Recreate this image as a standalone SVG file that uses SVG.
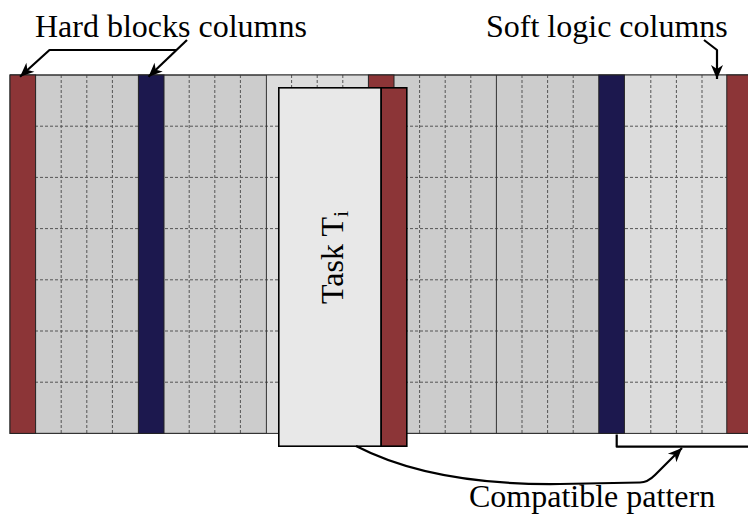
<svg xmlns="http://www.w3.org/2000/svg" width="748" height="514" viewBox="0 0 748 514">
<defs>
<style>
.lbl{font-family:"Liberation Serif","DejaVu Serif",serif;font-size:32px;fill:#000}
.dash{stroke:#555;stroke-width:1;stroke-dasharray:3 2;fill:none}
.solid{stroke:#333;stroke-width:1;fill:none}
.red{fill:#8c3537;stroke:#222;stroke-width:1}
.navy{fill:#1c184e;stroke:#222;stroke-width:1}
.conn{stroke:#000;stroke-width:2.2;fill:none;stroke-linejoin:round}
</style>
<marker id="arr" viewBox="-15 -7 16 14" markerWidth="16" markerHeight="14" refX="0" refY="0" orient="auto" markerUnits="userSpaceOnUse">
<path d="M0,0 L-14,-6 L-10,0 L-14,6 Z" fill="#000"/>
</marker>
</defs>
<rect width="748" height="514" fill="#fff"/>
<g id="board">
<rect x="10" y="75" width="742.4" height="358.4" fill="#cccccc" stroke="#333" stroke-width="1"/>
<rect x="266.4" y="75" width="102.4" height="358.4" fill="#dcdcdc"/>
<rect x="624.4" y="75" width="102.4" height="358.4" fill="#dcdcdc"/>
<g class="dash">
<path d="M10,126.2H748M10,177.4H748M10,228.6H748M10,279.8H748M10,331H748M10,382.2H748"/>
<path d="M61.2,75V433.4M86.8,75V433.4M112.4,75V433.4M189.2,75V433.4M214.8,75V433.4M240.4,75V433.4M291.6,75V433.4M317.2,75V433.4M342.8,75V433.4M419.6,75V433.4M445.2,75V433.4M470.8,75V433.4M522,75V433.4M547.6,75V433.4M573.2,75V433.4M650.8,75V433.4M676.4,75V433.4M702,75V433.4"/>
</g>
<path class="solid" d="M266.4,75V433.4M496.4,75V433.4M10,75H748M10,433.4H748"/>
<rect class="red" x="10" y="75" width="25.6" height="358.4"/>
<rect class="navy" x="138.4" y="75" width="25.6" height="358.4"/>
<rect class="red" x="368.4" y="75" width="25.6" height="358.4"/>
<rect class="navy" x="598.8" y="75" width="25.6" height="358.4"/>
<rect class="red" x="726.8" y="75" width="25.6" height="358.4"/>
</g>
<g id="task">
<rect x="278.8" y="87.8" width="102.4" height="358.4" fill="#e8e8e8" stroke="#000" stroke-width="1.6"/>
<rect x="381.2" y="87.8" width="25.6" height="358.4" fill="#8c3537" stroke="#000" stroke-width="1.6"/>
<text class="lbl" transform="translate(343,304) rotate(-90)" font-size="33">Task T<tspan font-size="22" dy="5">i</tspan></text>
</g>
<g id="labels">
<text class="lbl" x="35" y="36.5">Hard blocks columns</text>
<text class="lbl" x="486" y="36.5">Soft logic columns</text>
<text class="lbl" x="469" y="506.5" font-size="33">Compatible pattern</text>
</g>
<g id="connectors">
<path class="conn" d="M187,40 L148.5,76.7" marker-end="url(#arr)"/>
<path class="conn" d="M177,50 L49.5,50 L20,76.7" marker-end="url(#arr)"/>
<path class="conn" d="M704,40 L717,50 L717,79" marker-end="url(#arr)"/>
<path class="conn" d="M616.7,434.5 V446.7 H748"/>
<path class="conn" d="M356,446 C410,474 480,485 560,484 L640,482.5 Q647.5,482.5 655,475 L682,448" marker-end="url(#arr)"/>
</g>
</svg>
